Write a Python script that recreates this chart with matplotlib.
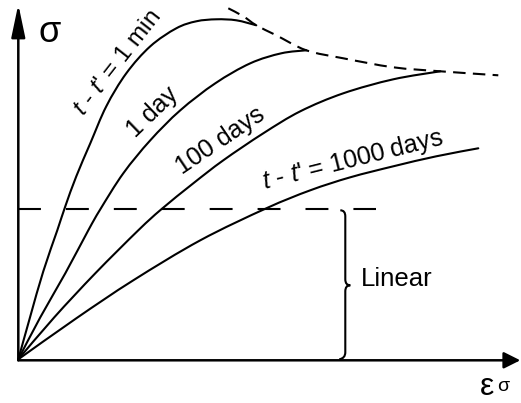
import matplotlib
matplotlib.use("Agg")
import matplotlib.pyplot as plt
from matplotlib.path import Path
from matplotlib.patches import PathPatch

plt.rcParams['font.family'] = ['Liberation Sans', 'DejaVu Sans']
plt.rcParams['mathtext.fontset'] = 'custom'
plt.rcParams['mathtext.it'] = 'Liberation Sans:italic'
plt.rcParams['mathtext.rm'] = 'Liberation Sans'

# strain / stress (arbitrary units, origin at 0,0)
strain_1min = [0, 12, 25, 39, 47, 58, 72, 88, 108, 132, 158, 178, 198, 218, 238]
stress_1min = [0, 43, 88, 129, 153, 183, 216, 253, 286, 313, 331, 338, 340, 339, 334]

strain_1day = [0, 22, 47, 70, 82, 105, 132, 162, 197, 232, 263, 288]
stress_1day = [0, 42, 86, 129, 150, 186, 219, 249, 276, 296, 306, 309]

strain_100d = [0, 36, 77, 120, 143, 175, 205, 245, 282, 325, 375, 422]
stress_100d = [0, 42, 86, 129, 150, 176, 199, 226, 248, 266, 280, 288]

strain_1000d = [0, 58, 115, 182, 248, 292, 332, 375, 418, 460]
stress_1000d = [0, 41, 79, 119, 151, 169, 182, 193, 203, 211]

# failure envelope (dashed)
strain_env = [210, 225, 238, 258, 288, 325, 375, 422, 480]
stress_env = [351, 343, 334, 324, 309, 301, 292, 288, 284]

linear_limit = 150
linear_end = 358

labels = ["$t$ - $t$' = 1 min", '1 day', '100 days', "$t$ - $t$' = 1000 days"]


def smooth_path(xs, ys):
    # Catmull-Rom through the read points, drawn as cubic Bezier segments
    pts = list(zip(xs, ys))
    verts = [pts[0]]
    codes = [Path.MOVETO]
    for i in range(len(pts) - 1):
        p0 = pts[i - 1] if i > 0 else pts[i]
        p1 = pts[i]
        p2 = pts[i + 1]
        p3 = pts[i + 2] if i + 2 < len(pts) else p2
        c1 = (p1[0] + (p2[0] - p0[0]) / 6, p1[1] + (p2[1] - p0[1]) / 6)
        c2 = (p2[0] - (p3[0] - p1[0]) / 6, p2[1] - (p3[1] - p1[1]) / 6)
        verts += [c1, c2, p2]
        codes += [Path.CURVE4] * 3
    return Path(verts, codes)


fig = plt.figure(figsize=(5.21, 4.03), dpi=100)
ax = fig.add_axes([0, 0, 1, 1])
ax.set_xlim(-18.3, 502.7)
ax.set_ylim(-43.7, 359.3)
ax.axis('off')

lw = 1.5
for xs, ys in [(strain_1min, stress_1min), (strain_1day, stress_1day),
               (strain_100d, stress_100d), (strain_1000d, stress_1000d)]:
    ax.add_patch(PathPatch(smooth_path(xs, ys), facecolor='none', edgecolor='black',
                           lw=lw, capstyle='round'))

ax.add_patch(PathPatch(smooth_path(strain_env, stress_env), facecolor='none',
                       edgecolor='black', lw=lw, linestyle=(0, (6, 3.5))))
ax.plot([0, linear_end], [linear_limit, linear_limit], color='black', lw=lw,
        linestyle=(0, (11, 12)))

# axes with arrows
ax.annotate('', xy=(0, 355), xytext=(0, -1),
            arrowprops=dict(arrowstyle='-|>,head_length=2.0,head_width=0.42',
                            lw=1.8, color='black', shrinkA=0, shrinkB=0))
ax.annotate('', xy=(502, -1), xytext=(0, -1),
            arrowprops=dict(arrowstyle='-|>,head_length=1.0,head_width=0.5',
                            lw=1.8, color='black', shrinkA=0, shrinkB=0))

# brace marking the linear range
verts = [(322, 149), (327, 149), (327, 143), (327, 80), (327, 74), (332, 74),
         (327, 74), (327, 68), (327, 7), (327, 1), (321, 0)]
codes = [Path.MOVETO, Path.CURVE3, Path.CURVE3, Path.LINETO, Path.CURVE3, Path.CURVE3,
         Path.CURVE3, Path.CURVE3, Path.LINETO, Path.CURVE3, Path.CURVE3]
ax.add_patch(PathPatch(Path(verts, codes), facecolor='none', edgecolor='black', lw=1.5))

ax.text(343, 80, 'Linear', fontsize=18.5, ha='left', va='center')

ax.text(99, 296, labels[0], fontsize=17.5, rotation=52, ha='center', va='center',
        rotation_mode='anchor')
ax.text(134, 247, labels[1], fontsize=18, rotation=44, ha='center', va='center',
        rotation_mode='anchor')
ax.text(202, 219, labels[2], fontsize=18, rotation=34, ha='center', va='center',
        rotation_mode='anchor')
ax.text(334, 199, labels[3], fontsize=18, rotation=14, ha='center', va='center',
        rotation_mode='anchor')

ax.text(31, 327, 'σ', fontsize=26, ha='center', va='center')
ax.text(469, -36, 'ε', fontsize=23, ha='center', va='baseline')
ax.text(485, -32, 'σ', fontsize=14, ha='center', va='baseline')

fig.savefig('out.png', dpi=100)
